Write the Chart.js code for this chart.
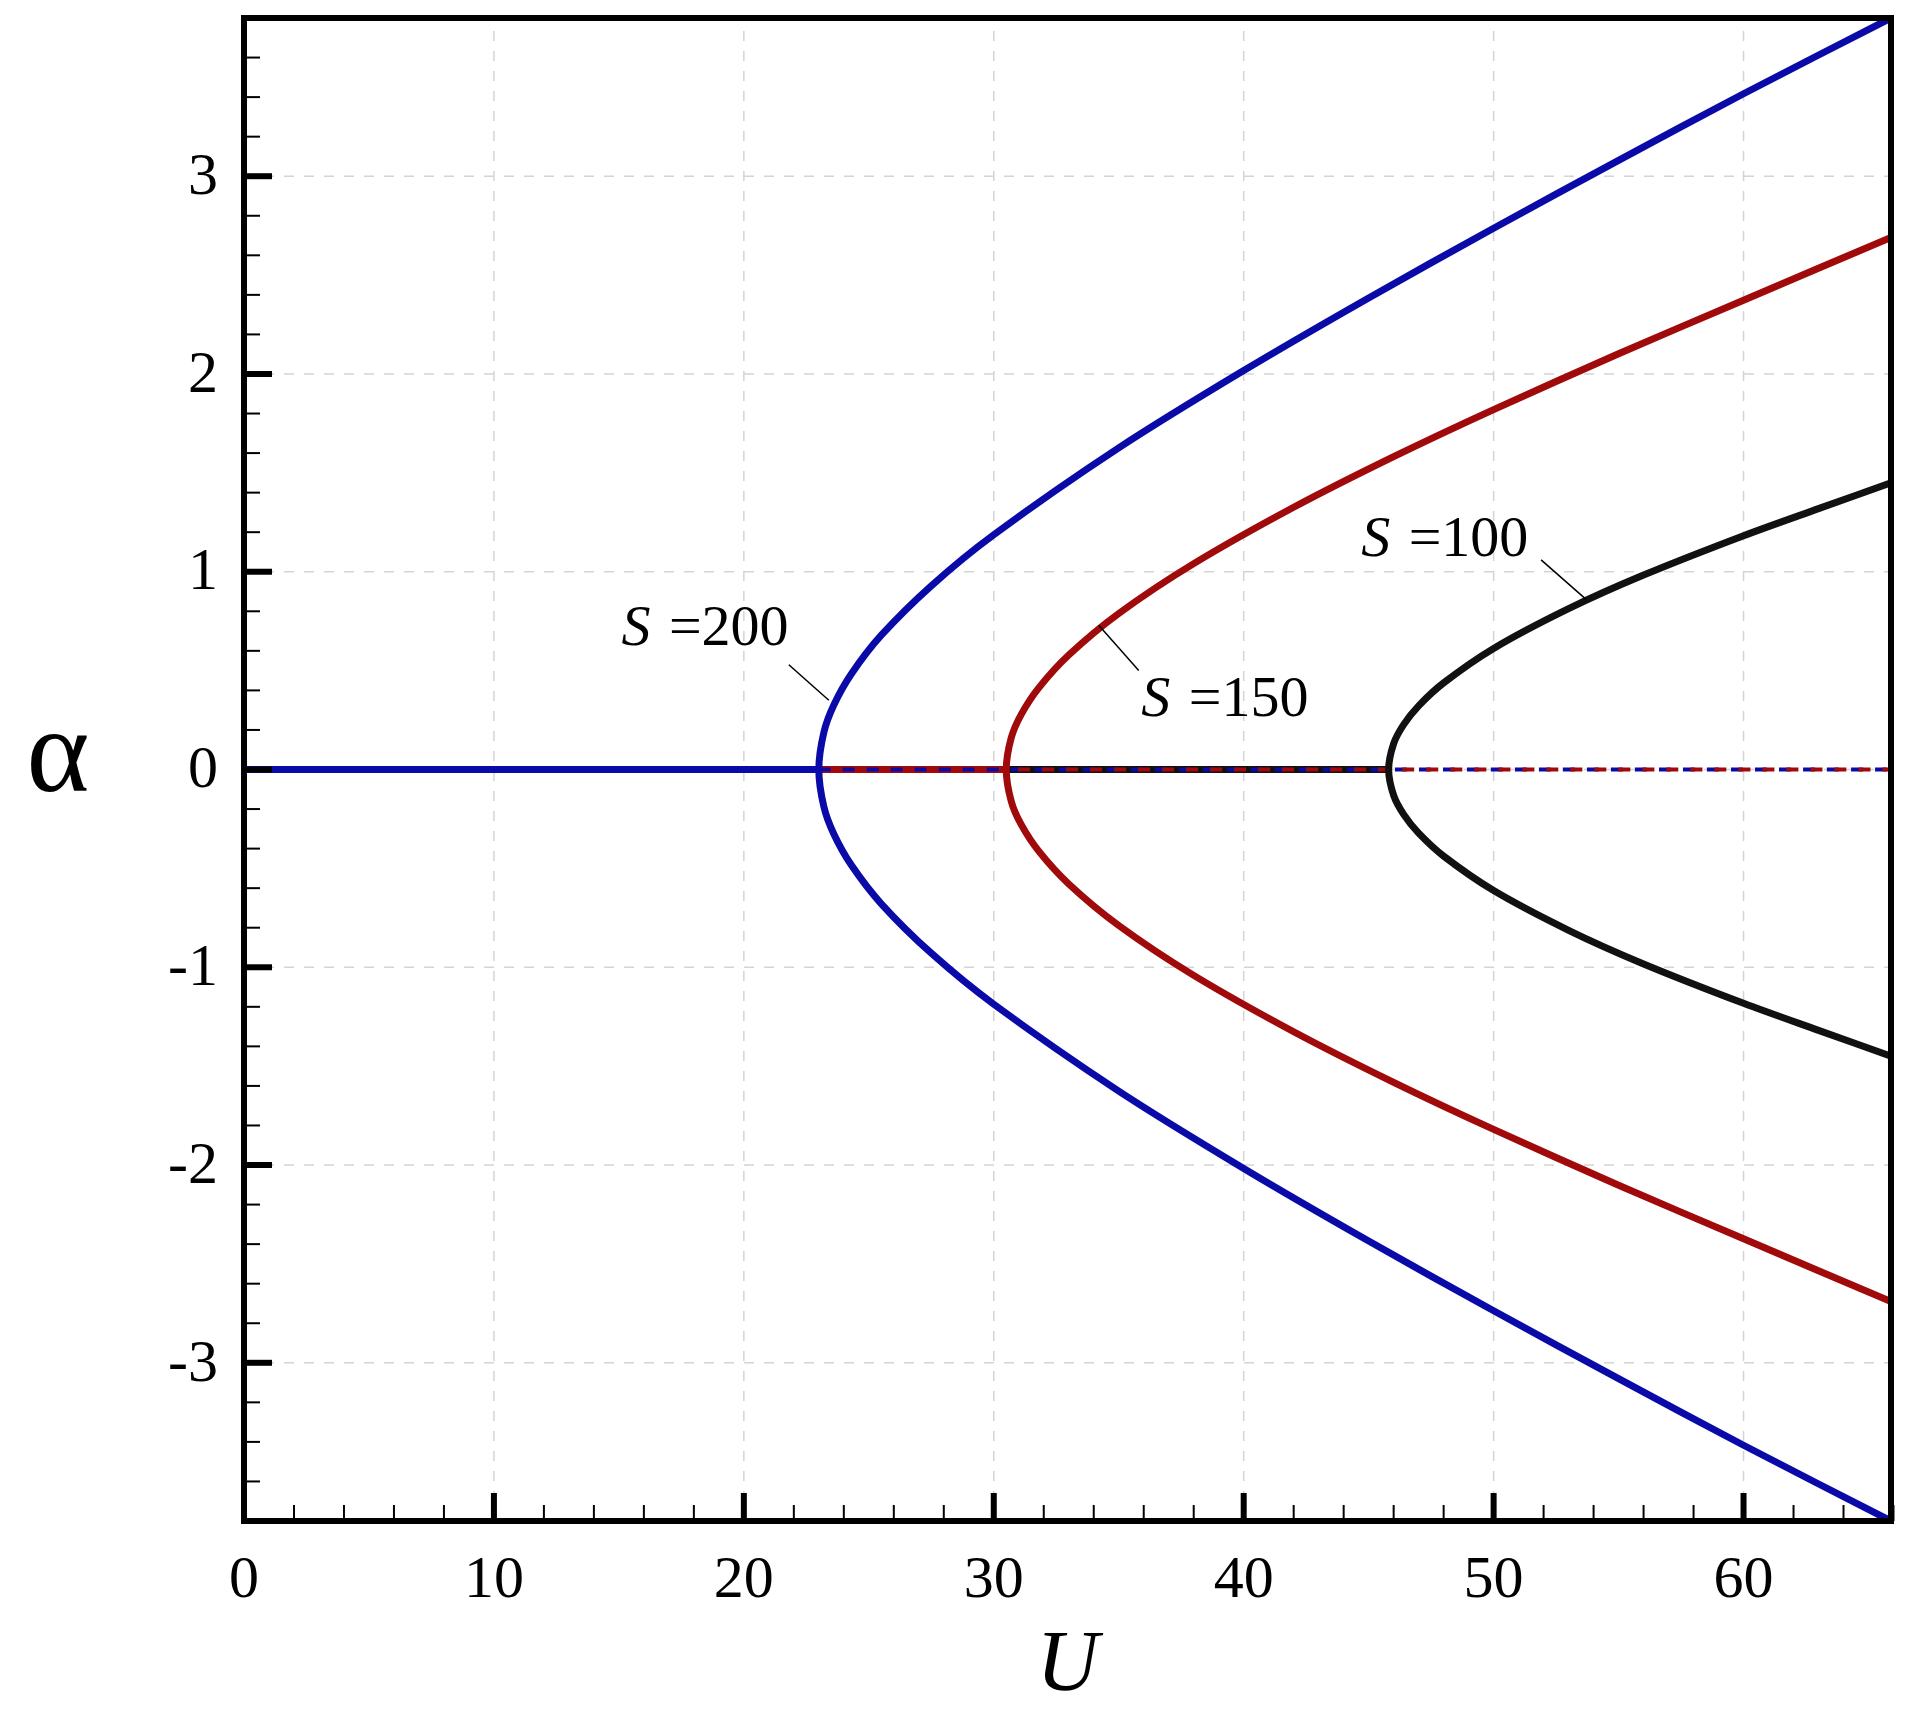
<!DOCTYPE html>
<html><head><meta charset="utf-8">
<script src="https://cdn.jsdelivr.net/npm/chart.js@4/dist/chart.umd.min.js"></script>
<style>html,body{margin:0;padding:0;background:#fff}#wrap{width:1932px;height:1716px}</style>
</head><body><div id="wrap"><canvas id="c" width="1932" height="1716"></canvas></div>
<script>
// Read-off values: U (x) and alpha (y) along each upper branch; lower branch values listed explicitly.
const u200 = [23.0, 23.2, 23.6, 24.3, 25.5, 27.5, 30, 35, 40, 45, 50, 55, 60, 65.9];
const a200 = [0, 0.187, 0.326, 0.483, 0.679, 0.929, 1.187, 1.626, 2.017, 2.384, 2.737, 3.080, 3.417, 3.80];
const b200 = [0, -0.187, -0.326, -0.483, -0.679, -0.929, -1.187, -1.626, -2.017, -2.384, -2.737, -3.080, -3.417, -3.80];
const u150 = [30.5, 30.7, 31.1, 31.8, 33, 35, 38, 42, 46, 50, 55, 60, 65.9];
const a150 = [0, 0.161, 0.279, 0.413, 0.579, 0.789, 1.041, 1.326, 1.582, 1.820, 2.102, 2.373, 2.69];
const b150 = [0, -0.161, -0.279, -0.413, -0.579, -0.789, -1.041, -1.326, -1.582, -1.820, -2.102, -2.373, -2.69];
const u100 = [45.8, 46.0, 46.4, 47, 48, 50, 53, 56, 60, 63, 65.9];
const a100 = [0, 0.131, 0.227, 0.322, 0.438, 0.612, 0.813, 0.983, 1.182, 1.319, 1.45];
const b100 = [0, -0.131, -0.227, -0.322, -0.438, -0.612, -0.813, -0.983, -1.182, -1.319, -1.45];
const xTicks = [0, 10, 20, 30, 40, 50, 60];
const yTicks = [-3, -2, -1, 0, 1, 2, 3];
const labels = [
  {t:'200', x:15.1, y:0.63, lx:[21.8,23.4], ly:[0.53,0.35]},
  {t:'150', x:35.9, y:0.27, lx:[34.2,35.8], ly:[0.73,0.50]},
  {t:'100', x:44.7, y:1.08, lx:[51.9,53.7], ly:[1.06,0.86]}
];

const BLUE='#0a0aa8', RED='#a00a0a', BLACK='#111111';
function branch(us, as, bs){
  const pts=[];
  for(let i=us.length-1;i>=0;i--) pts.push({x:us[i],y:bs[i]});
  for(let i=1;i<us.length;i++) pts.push({x:us[i],y:as[i]});
  return pts;
}
function ds(data,color,order,dash){
  return {data, borderColor:color, borderWidth:7, pointRadius:0, showLine:true, tension:0.3, order, borderDash:dash||[], fill:false};
}
const datasets=[
  ds([{x:0,y:0},{x:u100[0],y:0}],BLACK,9),
  ds([{x:0,y:0},{x:u150[0],y:0}],RED,8),
  ds([{x:0,y:0},{x:u200[0],y:0}],BLUE,7),
  Object.assign(ds([{x:u200[0],y:0},{x:65.9,y:0}],BLUE,6,[12,12]),{borderWidth:4}),
  Object.assign(ds([{x:u150[0],y:0},{x:65.9,y:0}],RED,5,[12,12]),{borderDashOffset:12,borderWidth:4}),
  ds(branch(u100,a100,b100),BLACK,3),
  ds(branch(u150,a150,b150),RED,2),
  ds(branch(u200,a200,b200),BLUE,1)
];

const grid={
  id:'gridd',
  beforeDatasetsDraw(chart){
    const {ctx,chartArea:a,scales:{x,y}}=chart;
    ctx.save();ctx.strokeStyle='#d4d4d4';ctx.lineWidth=1.5;ctx.setLineDash([10,10]);
    xTicks.forEach(v=>{const p=x.getPixelForValue(v);ctx.beginPath();ctx.moveTo(p,a.bottom);ctx.lineTo(p,a.top);ctx.stroke();});
    yTicks.forEach(v=>{const p=y.getPixelForValue(v);ctx.beginPath();ctx.moveTo(a.left,p);ctx.lineTo(a.right,p);ctx.stroke();});
    ctx.restore();
  }
};
const deco={
  id:'deco',
  afterDatasetsDraw(chart){
    const {ctx,chartArea:a,scales:{x,y}}=chart;
    ctx.save();
    ctx.strokeStyle='#000';
    for(let v=0;v<=66;v+=2){
      const px=x.getPixelForValue(v); const major=v%10===0;
      ctx.lineWidth=major?6:2;
      ctx.beginPath();ctx.moveTo(px,a.bottom);ctx.lineTo(px,a.bottom-(major?28:16));ctx.stroke();
    }
    for(let k=-19;k<=19;k++){
      const v=k/5; const py=y.getPixelForValue(v); const major=k%5===0;
      ctx.lineWidth=major?6:2;
      ctx.beginPath();ctx.moveTo(a.left,py);ctx.lineTo(a.left+(major?28:16),py);ctx.stroke();
    }
    ctx.lineWidth=6;ctx.strokeRect(a.left,a.top,a.right-a.left,a.bottom-a.top);
    // tick labels
    ctx.fillStyle='#000';
    ctx.font='60px "Liberation Serif"';
    ctx.textAlign='center';ctx.textBaseline='top';
    xTicks.forEach(v=>ctx.fillText(String(v),x.getPixelForValue(v),a.bottom+30));
    ctx.textAlign='right';ctx.textBaseline='middle';
    yTicks.forEach(v=>ctx.fillText(String(v),a.left-26,y.getPixelForValue(v)+2));
    // annotations
    ctx.textBaseline='alphabetic';ctx.textAlign='left';
    labels.forEach(l=>{
      let px=x.getPixelForValue(l.x), py=y.getPixelForValue(l.y);
      ctx.font='italic 58px "Liberation Serif"';ctx.fillText('S',px,py);
      px+=ctx.measureText('S ').width+4;
      ctx.font='58px "Liberation Serif"';ctx.fillText('='+l.t,px,py);
      ctx.lineWidth=1.5;ctx.beginPath();
      ctx.moveTo(x.getPixelForValue(l.lx[0]),y.getPixelForValue(l.ly[0]));
      ctx.lineTo(x.getPixelForValue(l.lx[1]),y.getPixelForValue(l.ly[1]));ctx.stroke();
    });
    ctx.textAlign='center';ctx.textBaseline='alphabetic';
    ctx.font='italic 86px "Liberation Serif"';ctx.fillText('U',(a.left+a.right)/2,1690);
    ctx.textBaseline='middle';ctx.font='120px "Liberation Serif"';ctx.fillText('α',58,y.getPixelForValue(0)-10);
    ctx.restore();
  }
};

new Chart(document.getElementById('c'),{
  type:'scatter',
  data:{datasets},
  options:{
    responsive:false, animation:false,
    layout:{padding:{top:18,right:41,left:0,bottom:0}},
    plugins:{legend:{display:false},tooltip:{enabled:false}},
    scales:{
      x:{type:'linear',min:0,max:65.9,
        afterBuildTicks:s=>{s.ticks=xTicks.map(v=>({value:v}));},
        afterFit:s=>{s.height=195;},
        border:{display:false},grid:{display:false},ticks:{display:false}},
      y:{type:'linear',min:-3.8,max:3.8,
        afterBuildTicks:s=>{s.ticks=yTicks.map(v=>({value:v}));},
        afterFit:s=>{s.width=244;},
        border:{display:false},grid:{display:false},ticks:{display:false}}
    }
  },
  plugins:[grid,deco]
});
</script></body></html>
